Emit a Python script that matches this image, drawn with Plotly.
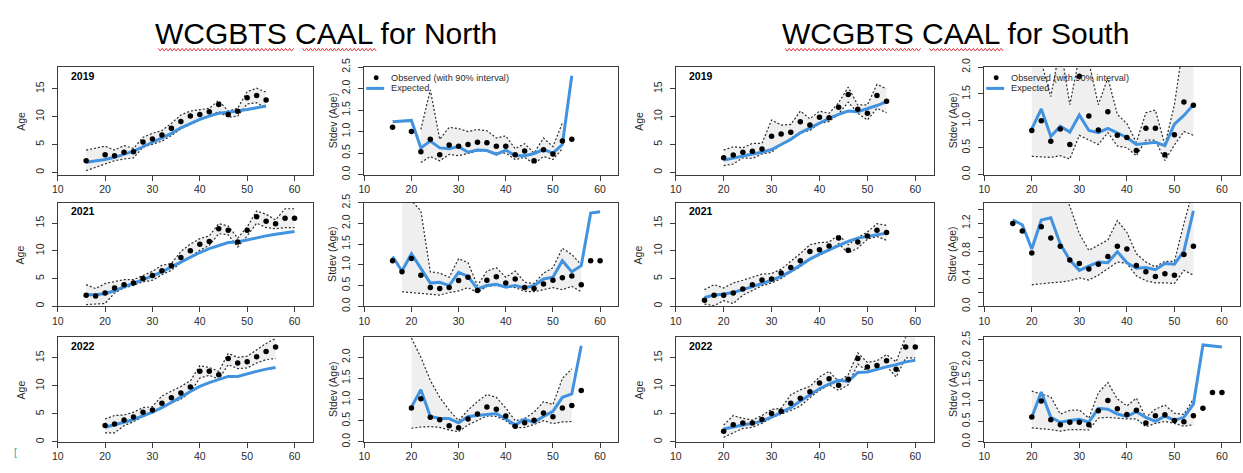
import plotly.graph_objects as go

W, H = 1243, 473

# ---------------- North ----------------
north_2019_len = [16, 20, 22, 24, 26, 28, 30, 32, 34, 36, 38, 40, 42, 44, 46, 48, 50, 52, 54]
north_2019_mean_obs = [2.1, 3.15, 3.0, 3.6, 3.7, 5.45, 6.0, 6.7, 7.9, 9.15, 10.1, 10.4, 10.9, 12.2, 10.4, 10.95, 13.4, 13.8, 13.0]
north_2019_mean_hi = [4.0, 4.7, 4.0, 4.8, 4.3, 6.3, 7.0, 7.5, 8.8, 10.3, 11.0, 11.2, 11.5, 12.9, 11.0, 11.5, 14.5, 15.1, 14.4]
north_2019_mean_lo = [0.3, 1.5, 2.1, 2.4, 2.6, 4.5, 5.0, 5.6, 6.6, 7.8, 8.6, 9.4, 10.1, 10.9, 9.9, 10.1, 12.3, 12.5, 11.5]
north_2019_mean_exp = [1.8, 2.3, 2.7, 3.2, 3.8, 4.6, 5.4, 6.1, 7.0, 8.0, 8.8, 9.5, 10.1, 10.6, 10.8, 11.0, 11.3, 11.6, 11.9]
north_2019_sd_obs = [1.1, 1.0, 0.53, 0.82, 0.46, 0.69, 0.66, 0.7, 0.75, 0.74, 0.66, 0.66, 0.46, 0.55, 0.32, 0.58, 0.48, 0.78, 0.82]
north_2019_sd_exp = [1.23, 1.26, 0.62, 0.78, 0.62, 0.6, 0.65, 0.52, 0.57, 0.56, 0.47, 0.57, 0.44, 0.44, 0.49, 0.58, 0.5, 0.7, 2.3]
north_2019_sd_ci_len = [22, 24, 26, 28, 30, 32, 34, 36, 38, 40, 42, 44, 46, 48, 50, 52]
north_2019_sd_hi = [1.05, 1.97, 0.82, 1.1, 1.07, 1.0, 1.05, 1.02, 0.85, 0.9, 0.6, 0.72, 0.5, 0.85, 0.65, 1.2]
north_2019_sd_lo = [0.28, 0.42, 0.32, 0.47, 0.44, 0.5, 0.55, 0.55, 0.5, 0.5, 0.35, 0.4, 0.25, 0.42, 0.35, 0.6]

north_2021_len = [16, 18, 20, 22, 24, 26, 28, 30, 32, 34, 36, 38, 40, 42, 44, 46, 48, 50, 52, 54, 56, 58, 60]
north_2021_mean_obs = [2.0, 1.85, 2.4, 3.3, 3.9, 4.2, 5.0, 5.55, 6.4, 7.3, 8.8, 10.0, 11.2, 11.7, 14.0, 13.7, 11.6, 13.7, 16.15, 15.35, 14.9, 15.9, 15.9]
north_2021_mean_hi = [3.9, 3.2, 4.1, 4.5, 4.8, 4.8, 5.6, 6.3, 7.4, 7.7, 9.9, 11.2, 12.2, 12.7, 14.9, 14.5, 12.3, 14.3, 17.2, 16.6, 15.6, 17.6, 17.6]
north_2021_mean_lo = [0.3, 0.4, 0.5, 2.4, 3.3, 3.8, 4.4, 4.7, 5.7, 6.5, 7.9, 8.9, 10.1, 11.0, 13.1, 12.9, 10.7, 12.7, 15.0, 14.2, 14.0, 14.2, 14.2]
north_2021_mean_exp = [2.1, 2.1, 2.3, 2.8, 3.5, 4.1, 4.8, 5.5, 6.2, 7.1, 8.0, 8.9, 9.7, 10.4, 11.0, 11.5, 11.6, 12.0, 12.4, 12.7, 13.0, 13.3, 13.5]
north_2021_sd_obs = [1.1, 0.83, 1.15, 0.75, 0.45, 0.43, 0.45, 0.62, 0.7, 0.38, 0.63, 0.71, 0.56, 0.66, 0.45, 0.43, 0.54, 0.63, 0.69, 0.73, 0.52, 1.1, 1.1]
north_2021_sd_exp = [1.2, 0.85, 1.27, 0.92, 0.56, 0.58, 0.5, 0.82, 0.72, 0.42, 0.5, 0.53, 0.46, 0.5, 0.44, 0.5, 0.66, 0.7, 1.1, 0.83, 0.98, 2.25, 2.28]
north_2021_sd_ci_len = [18, 20, 22, 24, 26, 28, 30, 32, 34, 36, 38, 40, 42, 44, 46, 48, 50, 52, 54, 56]
north_2021_sd_hi = [2.6, 2.55, 2.3, 0.83, 0.8, 0.7, 1.15, 1.05, 0.5, 0.85, 0.93, 0.7, 0.85, 0.58, 0.55, 0.8, 0.93, 1.4, 1.25, 1.0]
north_2021_sd_lo = [0.35, 0.33, 0.31, 0.3, 0.27, 0.33, 0.37, 0.45, 0.33, 0.48, 0.5, 0.48, 0.45, 0.36, 0.35, 0.4, 0.45, 0.4, 0.48, 0.35]

north_2022_len = [20, 22, 24, 26, 28, 30, 32, 34, 36, 38, 40, 42, 44, 46, 48, 50, 52, 54, 56]
north_2022_mean_obs = [2.9, 3.2, 3.9, 4.45, 5.3, 5.7, 6.9, 7.9, 8.75, 9.8, 12.6, 12.6, 12.0, 14.9, 14.1, 14.3, 15.2, 16.15, 16.95]
north_2022_mean_hi = [4.1, 4.7, 4.8, 5.3, 6.1, 6.3, 8.2, 9.0, 9.9, 10.9, 13.6, 13.3, 12.6, 15.8, 15.1, 15.3, 16.4, 17.6, 18.5]
north_2022_mean_lo = [1.6, 1.6, 2.9, 3.6, 4.5, 5.2, 6.1, 7.0, 7.6, 8.9, 11.4, 11.9, 11.2, 13.8, 13.1, 13.2, 14.1, 14.7, 14.9]
north_2022_mean_exp = [2.6, 3.0, 3.5, 4.0, 4.6, 5.3, 6.1, 7.0, 8.0, 9.0, 9.9, 10.6, 11.2, 11.7, 11.7, 12.2, 12.6, 13.0, 13.3]
north_2022_sd_obs = [0.8, 1.02, 0.58, 0.52, 0.38, 0.33, 0.54, 0.66, 0.82, 0.77, 0.61, 0.37, 0.45, 0.51, 0.68, 0.59, 0.8, 0.86, 1.21]
north_2022_sd_exp = [0.82, 1.23, 0.6, 0.55, 0.55, 0.45, 0.6, 0.62, 0.64, 0.67, 0.54, 0.4, 0.53, 0.46, 0.6, 0.72, 1.05, 1.13, 2.27]
north_2022_sd_ci_len = [20, 22, 24, 26, 28, 30, 32, 34, 36, 38, 40, 42, 44, 46, 48, 50, 52, 54]
north_2022_sd_hi = [2.45, 2.0, 1.45, 1.05, 0.75, 0.5, 0.75, 0.95, 1.12, 1.05, 0.8, 0.5, 0.55, 0.7, 0.95, 0.88, 1.5, 1.72]
north_2022_sd_lo = [0.32, 0.35, 0.36, 0.34, 0.28, 0.24, 0.4, 0.5, 0.61, 0.6, 0.5, 0.33, 0.34, 0.41, 0.5, 0.43, 0.47, 0.48]

# ---------------- South ----------------
south_2019_len = [20, 22, 24, 26, 28, 30, 32, 34, 36, 38, 40, 42, 44, 46, 48, 50, 52, 54]
south_2019_mean_obs = [2.6, 3.1, 3.6, 3.8, 4.2, 6.5, 6.9, 7.2, 9.1, 8.5, 9.9, 9.8, 11.7, 14.0, 11.35, 10.6, 13.8, 12.75]
south_2019_mean_hi = [4.0, 4.6, 4.4, 5.2, 5.2, 9.4, 8.5, 8.6, 11.0, 9.6, 11.0, 10.6, 12.5, 15.3, 12.1, 12.1, 15.8, 15.0]
south_2019_mean_lo = [1.2, 1.5, 2.6, 2.5, 3.3, 3.6, 5.0, 6.1, 7.2, 7.5, 8.8, 9.1, 10.5, 12.6, 10.6, 9.4, 11.5, 10.7]
south_2019_mean_exp = [2.2, 2.6, 3.0, 3.3, 3.6, 4.1, 5.0, 5.9, 7.1, 8.0, 8.9, 9.7, 10.4, 11.0, 10.9, 11.4, 12.0, 12.7]
south_2019_sd_obs = [0.82, 1.0, 0.62, 0.85, 0.56, 1.83, 1.09, 0.83, 1.17, 0.73, 0.69, 0.45, 0.86, 0.86, 0.37, 0.74, 1.35, 1.29]
south_2019_sd_exp = [0.85, 1.22, 0.71, 0.9, 0.79, 1.11, 0.82, 0.78, 0.86, 0.78, 0.69, 0.56, 0.58, 0.6, 0.54, 0.94, 1.1, 1.3]
south_2019_sd_ci_len = [20, 22, 24, 26, 28, 30, 32, 34, 36, 38, 40, 42, 44, 46, 48, 50, 52, 54]
south_2019_sd_hi = [2.6, 2.1, 1.45, 2.4, 1.3, 2.2, 2.1, 1.3, 1.8, 1.12, 0.95, 0.6, 1.15, 1.2, 0.55, 1.3, 2.5, 2.6]
south_2019_sd_lo = [0.34, 0.33, 0.32, 0.35, 0.29, 0.73, 0.65, 0.56, 0.78, 0.53, 0.5, 0.35, 0.64, 0.64, 0.26, 0.55, 0.8, 0.73]

south_2021_len = [16, 18, 20, 22, 24, 26, 28, 30, 32, 34, 36, 38, 40, 42, 44, 46, 48, 50, 52, 54]
south_2021_mean_obs = [1.1, 2.0, 2.0, 2.4, 3.1, 3.9, 4.75, 4.9, 6.0, 7.0, 8.2, 9.9, 10.2, 10.9, 12.3, 10.1, 11.6, 12.7, 13.7, 13.3]
south_2021_mean_hi = [3.0, 3.9, 3.3, 4.2, 4.7, 5.2, 5.8, 5.9, 6.7, 8.1, 9.5, 11.1, 11.5, 11.6, 12.9, 11.1, 12.4, 13.4, 14.9, 14.6]
south_2021_mean_lo = [0.4, 0.1, 1.0, 0.5, 2.0, 2.8, 3.7, 4.2, 5.0, 6.2, 7.1, 8.6, 9.2, 10.0, 11.3, 9.6, 10.5, 12.1, 12.6, 11.9]
south_2021_mean_exp = [1.6, 2.0, 2.2, 2.5, 3.0, 3.5, 4.1, 4.7, 5.4, 6.3, 7.4, 8.5, 9.4, 10.2, 11.0, 11.7, 12.3, 12.6, 12.8, 13.2]
south_2021_sd_obs = [1.2, 1.09, 0.77, 1.15, 0.99, 0.87, 0.67, 0.62, 0.54, 0.61, 0.72, 0.87, 0.83, 0.59, 0.5, 0.43, 0.47, 0.45, 0.75, 0.87]
south_2021_sd_exp = [1.25, 1.18, 0.83, 1.25, 1.28, 0.9, 0.67, 0.52, 0.58, 0.64, 0.63, 0.79, 0.63, 0.55, 0.56, 0.53, 0.62, 0.61, 0.8, 1.38]
south_2021_sd_ci_len = [20, 22, 24, 26, 28, 30, 32, 34, 36, 38, 40, 42, 44, 46, 48, 50, 52, 54]
south_2021_sd_hi = [2.5, 2.3, 2.0, 1.7, 1.45, 1.05, 0.81, 0.88, 0.96, 1.24, 1.07, 0.76, 0.64, 0.57, 0.65, 0.65, 1.2, 1.7]
south_2021_sd_lo = [0.31, 0.33, 0.34, 0.35, 0.37, 0.41, 0.38, 0.45, 0.54, 0.64, 0.62, 0.44, 0.37, 0.34, 0.34, 0.33, 0.52, 0.45]

south_2022_len = [20, 22, 24, 26, 28, 30, 32, 34, 36, 38, 40, 42, 44, 46, 48, 50, 52, 54, 56, 58, 60]
south_2022_mean_obs = [1.9, 3.05, 3.35, 3.35, 4.0, 5.05, 5.45, 6.9, 7.8, 8.95, 10.5, 11.3, 10.1, 11.2, 14.9, 13.4, 13.65, 14.5, 13.0, 16.95, 16.95]
south_2022_mean_hi = [3.0, 4.7, 4.2, 3.9, 4.7, 5.8, 6.0, 8.4, 9.3, 9.9, 11.6, 12.6, 10.8, 12.0, 15.9, 14.2, 14.5, 15.6, 14.3, 18.8, 19.0]
south_2022_mean_lo = [0.8, 1.6, 2.4, 2.6, 3.3, 4.3, 4.9, 5.6, 6.4, 7.9, 9.2, 10.2, 9.2, 10.2, 13.9, 12.6, 13.0, 13.5, 11.6, 15.0, 15.0]
south_2022_mean_exp = [2.3, 2.7, 3.0, 3.3, 3.7, 4.4, 5.2, 6.1, 7.3, 8.4, 9.5, 10.3, 11.0, 10.8, 12.4, 12.5, 13.0, 13.4, 13.8, 14.3, 14.6]
south_2022_sd_obs = [0.61, 1.0, 0.54, 0.42, 0.48, 0.48, 0.42, 0.76, 1.01, 0.81, 0.67, 0.77, 0.46, 0.64, 0.66, 0.52, 0.49, 0.64, 0.82, 1.21, 1.21]
south_2022_sd_exp = [0.6, 1.22, 0.6, 0.48, 0.52, 0.55, 0.48, 0.82, 0.8, 0.68, 0.62, 0.74, 0.6, 0.5, 0.63, 0.53, 0.6, 0.92, 2.37, 2.35, 2.32]
south_2022_sd_ci_len = [20, 22, 24, 26, 28, 30, 32, 34, 36, 38, 40, 42, 44, 46, 48, 50, 52, 54]
south_2022_sd_hi = [1.24, 1.17, 1.1, 0.68, 0.77, 0.78, 0.58, 1.2, 1.45, 1.05, 0.88, 1.07, 0.6, 0.8, 0.9, 0.7, 0.67, 1.05]
south_2022_sd_lo = [0.34, 0.32, 0.3, 0.26, 0.3, 0.3, 0.29, 0.58, 0.6, 0.58, 0.56, 0.56, 0.37, 0.45, 0.5, 0.45, 0.38, 0.42]

x_ticks = [10, 20, 30, 40, 50, 60]
mean_ticks = [0, 5, 10, 15]
years = ["2019", "2021", "2022"]

# ---------------- styling / layout ----------------
FONT = "Liberation Sans, Arial, sans-serif"
BLUE = "#4193E0"
FILL = "#EFEFEF"
DOT_LINE = dict(color="#2b2b2b", width=1.2, dash="2px,2px")
FRAME = "#3c3c3c"
TXT = "#2a2a2a"

COLS = [(52, 308), (360, 615), (673, 932), (983, 1240)]
ROWS = [(60, 171), (200, 307), (339, 447)]
MEAN_YRANGE = [[-0.4, 18.9], [0.0, 18.7], [0.0, 18.7]]


def fx(px):
    return px / W


def fy(py):
    return 1 - py / H


fig = go.Figure()
layout = {}
annotations = []
shapes = []

panels = [
    (0, 0, "mean", north_2019_len, north_2019_mean_obs, north_2019_mean_lo, north_2019_mean_hi, north_2019_mean_exp),
    (1, 0, "sd", north_2019_len, north_2019_sd_obs, north_2019_sd_exp, north_2019_sd_ci_len, north_2019_sd_lo, north_2019_sd_hi),
    (2, 0, "mean", south_2019_len, south_2019_mean_obs, south_2019_mean_lo, south_2019_mean_hi, south_2019_mean_exp),
    (3, 0, "sd", south_2019_len, south_2019_sd_obs, south_2019_sd_exp, south_2019_sd_ci_len, south_2019_sd_lo, south_2019_sd_hi),
    (0, 1, "mean", north_2021_len, north_2021_mean_obs, north_2021_mean_lo, north_2021_mean_hi, north_2021_mean_exp),
    (1, 1, "sd", north_2021_len, north_2021_sd_obs, north_2021_sd_exp, north_2021_sd_ci_len, north_2021_sd_lo, north_2021_sd_hi),
    (2, 1, "mean", south_2021_len, south_2021_mean_obs, south_2021_mean_lo, south_2021_mean_hi, south_2021_mean_exp),
    (3, 1, "sd", south_2021_len, south_2021_sd_obs, south_2021_sd_exp, south_2021_sd_ci_len, south_2021_sd_lo, south_2021_sd_hi),
    (0, 2, "mean", north_2022_len, north_2022_mean_obs, north_2022_mean_lo, north_2022_mean_hi, north_2022_mean_exp),
    (1, 2, "sd", north_2022_len, north_2022_sd_obs, north_2022_sd_exp, north_2022_sd_ci_len, north_2022_sd_lo, north_2022_sd_hi),
    (2, 2, "mean", south_2022_len, south_2022_mean_obs, south_2022_mean_lo, south_2022_mean_hi, south_2022_mean_exp),
    (3, 2, "sd", south_2022_len, south_2022_sd_obs, south_2022_sd_exp, south_2022_sd_ci_len, south_2022_sd_lo, south_2022_sd_hi),
]

# y-axis settings of the stdev panels, keyed by (col, row)
sd_axes = {
    (1, 0): ([0, 2.5], [0, 0.5, 1.0, 1.5, 2.0, 2.5], None),
    (1, 1): ([0, 2.5], [0, 0.5, 1.0, 1.5, 2.0, 2.5], None),
    (1, 2): ([0, 2.47], [0, 0.5, 1.0, 1.5, 2.0], None),
    (3, 0): ([0, 2.0], [0, 0.5, 1.0, 1.5, 2.0], None),
    (3, 1): ([0, 1.5], [0, 0.2, 0.4, 0.6, 0.8, 1.0, 1.2, 1.4],
             ["0.0", "", "0.4", "", "0.8", "", "1.2", ""]),
    (3, 2): ([0, 2.56], [0, 0.5, 1.0, 1.5, 2.0, 2.5], None),
}

for k, p in enumerate(panels, start=1):
    col, row, kind = p[0], p[1], p[2]
    xa = "x" if k == 1 else f"x{k}"
    ya = "y" if k == 1 else f"y{k}"
    xname = "xaxis" if k == 1 else f"xaxis{k}"
    yname = "yaxis" if k == 1 else f"yaxis{k}"
    x0, x1 = COLS[col]
    y0, y1 = ROWS[row]

    if kind == "mean":
        lens, obs, lo, hi, exp = p[3:]
        ci_len = lens
        yrange = MEAN_YRANGE[row]
        ytickvals, yticktext = mean_ticks, [str(v) for v in mean_ticks]
        ytitle = "Age"
    else:
        lens, obs, exp, ci_len, lo, hi = p[3:]
        yrange, ytickvals, yticktext = sd_axes[(col, row)]
        if yticktext is None:
            yticktext = [f"{v:.1f}" for v in ytickvals]
        ytitle = "Stdev (Age)"

    # 90% interval band with dotted bounds
    fig.add_trace(go.Scatter(x=ci_len, y=lo, mode="lines", line=DOT_LINE,
                             xaxis=xa, yaxis=ya, showlegend=False, hoverinfo="skip"))
    fig.add_trace(go.Scatter(x=ci_len, y=hi, mode="lines", line=DOT_LINE,
                             fill="tonexty", fillcolor=FILL,
                             xaxis=xa, yaxis=ya, showlegend=False, hoverinfo="skip"))
    # expected
    fig.add_trace(go.Scatter(x=lens, y=exp, mode="lines",
                             line=dict(color=BLUE, width=3),
                             xaxis=xa, yaxis=ya, showlegend=False))
    # observed
    fig.add_trace(go.Scatter(x=lens, y=obs, mode="markers",
                             marker=dict(color="black", size=5.5),
                             xaxis=xa, yaxis=ya, showlegend=False))

    layout[xname] = dict(
        domain=[fx(x0), fx(x1)], range=[10, 63.8], anchor=ya,
        tickvals=x_ticks, ticks="outside", ticklen=5, tickcolor=FRAME,
        showline=True, mirror=True, linecolor=FRAME, linewidth=1,
        showgrid=False, zeroline=False,
        tickfont=dict(family=FONT, size=10.5, color=TXT),
    )
    layout[yname] = dict(
        domain=[fy(y1), fy(y0)], range=yrange, anchor=xa,
        tickvals=ytickvals, ticktext=yticktext, tickangle=-90,
        ticks="outside", ticklen=5, tickcolor=FRAME, ticklabelstandoff=4,
        showline=True, mirror=True, linecolor=FRAME, linewidth=1,
        showgrid=False, zeroline=False,
        tickfont=dict(family=FONT, size=10.5, color=TXT),
    )

    # y-axis title
    title_x = x0 - (37 if kind == "mean" else 32)
    annotations.append(dict(
        x=fx(title_x), y=fy((y0 + y1) / 2), xref="paper", yref="paper",
        text=ytitle, textangle=-90, showarrow=False,
        xanchor="center", yanchor="middle",
        font=dict(family=FONT, size=10.5, color=TXT)))

    # year tag in the mean panels
    if kind == "mean":
        annotations.append(dict(
            x=fx(x0 + 11), y=fy(y0 + 9), xref="paper", yref="paper",
            text=f"<b>{years[row]}</b>", showarrow=False,
            xanchor="left", yanchor="middle",
            font=dict(family=FONT, size=10.5, color="black")))

    # legend inside the first stdev panel of each region
    if kind == "sd" and row == 0:
        shapes.append(dict(type="circle", xref="paper", yref="paper",
                           x0=fx(x0 + 9.5), x1=fx(x0 + 14.5),
                           y0=fy(y0 + 13.5), y1=fy(y0 + 8.5),
                           fillcolor="black", line=dict(width=0)))
        shapes.append(dict(type="line", xref="paper", yref="paper",
                           x0=fx(x0 + 2), x1=fx(x0 + 20),
                           y0=fy(y0 + 22), y1=fy(y0 + 22),
                           line=dict(color=BLUE, width=3)))
        annotations.append(dict(
            x=fx(x0 + 25), y=fy(y0 + 11), xref="paper", yref="paper",
            text="Observed (with 90% interval)", showarrow=False,
            xanchor="left", yanchor="middle",
            font=dict(family=FONT, size=9.2, color=TXT)))
        annotations.append(dict(
            x=fx(x0 + 25), y=fy(y0 + 22), xref="paper", yref="paper",
            text="Expected", showarrow=False,
            xanchor="left", yanchor="middle",
            font=dict(family=FONT, size=9.2, color=TXT)))

# region headings
for text, lx in [("WCGBTS CAAL for North", 148), ("WCGBTS CAAL for South", 778)]:
    annotations.append(dict(
        x=fx(lx), y=fy(25), xref="paper", yref="paper", text=text,
        showarrow=False, xanchor="left", yanchor="middle",
        font=dict(family=FONT, size=30, color="black")))


# wavy proofing underline beneath the headings' acronyms
def wavy(xa, xb, y, amp=1.4, step=2.0):
    pts = []
    x = xa
    up = True
    while x <= xb:
        pts.append((x, y - amp if up else y + amp))
        up = not up
        x += step
    path = "M " + " L ".join(f"{fx(a):.5f},{fy(b):.5f}" for a, b in pts)
    return dict(type="path", xref="paper", yref="paper", path=path,
                line=dict(color="#e0393e", width=1))


for xa_, xb_ in [(153, 290), (298, 372), (783, 920), (928, 1003)]:
    shapes.append(wavy(xa_, xb_, 42))

annotations.append(dict(x=fx(6), y=fy(466), xref="paper", yref="paper", text="[",
                        showarrow=False, font=dict(family=FONT, size=10, color="#19a9c0")))

fig.update_layout(
    width=W, height=H, autosize=False,
    margin=dict(l=0, r=0, t=0, b=0),
    paper_bgcolor="white", plot_bgcolor="white",
    showlegend=False,
    annotations=annotations, shapes=shapes,
    **layout,
)

fig.write_html("out.html")
